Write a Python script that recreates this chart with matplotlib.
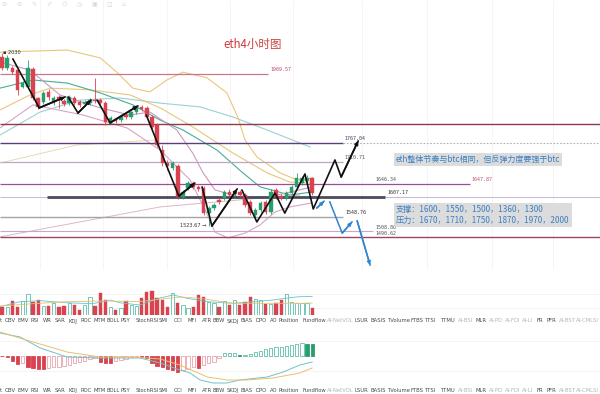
import matplotlib.pyplot as plt
from matplotlib.patches import Rectangle

plt.rcParams['font.family'] = ['Noto Sans CJK SC', 'DejaVu Sans']

W, H = 600, 394

# ---- ETH 4h candles ----
opens = [2020, 1987, 1987, 1981, 1931, 1931, 1984, 1899, 1887, 1917,
         1884, 1902, 1890, 1884, 1899, 1887, 1881, 1884, 1893, 1893,
         1884, 1829, 1837, 1834, 1849, 1843, 1858, 1873, 1870, 1843,
         1820, 1746, 1708, 1693, 1699, 1608, 1635, 1649, 1638, 1635,
         1561, 1576, 1599, 1605, 1623, 1617, 1623, 1614, 1594, 1555,
         1570, 1594, 1564, 1629, 1611, 1605, 1620, 1638, 1649, 1655,
         1664]
closes = [1987, 2017, 1976, 1923, 1943, 1987, 1899, 1873, 1914, 1902,
          1899, 1893, 1881, 1902, 1884, 1878, 1887, 1893, 1890, 1884,
          1829, 1840, 1832, 1846, 1843, 1858, 1873, 1867, 1843, 1814,
          1761, 1708, 1699, 1708, 1608, 1623, 1649, 1638, 1632, 1561,
          1576, 1585, 1594, 1623, 1614, 1620, 1614, 1585, 1561, 1570,
          1591, 1564, 1623, 1608, 1605, 1620, 1638, 1664, 1664, 1664,
          1620]
highs = [2030, 2025, 1993, 1987, 1950, 2011, 1990, 1902, 1920, 1925,
         1905, 1908, 1896, 1908, 1905, 1893, 1893, 1899, 1958, 1899,
         1890, 1846, 1843, 1852, 1855, 1861, 1878, 1878, 1875, 1849,
         1826, 1761, 1717, 1714, 1705, 1629, 1655, 1655, 1643, 1641,
         1582, 1591, 1605, 1629, 1632, 1626, 1629, 1620, 1599, 1576,
         1596, 1599, 1632, 1635, 1617, 1626, 1643, 1679, 1670, 1673,
         1667]
lows = [1981, 1981, 1970, 1908, 1928, 1925, 1893, 1866, 1881, 1893,
        1878, 1870, 1875, 1878, 1878, 1872, 1875, 1878, 1884, 1878,
        1820, 1823, 1826, 1829, 1837, 1837, 1852, 1861, 1837, 1808,
        1755, 1700, 1688, 1688, 1602, 1602, 1629, 1632, 1626, 1555,
        1523.67, 1570, 1588, 1599, 1608, 1611, 1608, 1579, 1555, 1541,
        1564, 1558, 1558, 1602, 1599, 1599, 1614, 1632, 1643, 1649,
        1614]
volumes = [780, 750, 1350, 780, 1350, 2050, 1280, 1450, 850, 850,
           1150, 780, 850, 1150, 950, 450, 950, 1780, 850, 2180,
           1450, 780, 450, 650, 1380, 950, 850, 1650, 2280, 2350,
           1650, 1450, 780, 2180, 1150, 950, 650, 780, 1950, 1780,
           1280, 1150, 780, 1350, 950, 1450, 950, 1280, 1780, 1550,
           1450, 1050, 1050, 1150, 1450, 2020, 1250, 1150, 1200, 1200,
           700]
macd_hist = [-0.3, -1.3, -4.7, -8.3, -7.3, -10.7, -12.3, -13.3, -13.3, -12.3,
             -11.3, -10.7, -10, -9, -7.3, -5.7, -4.7, -3.3, -2.3, -5.7,
             -6.7, -6.7, -4.7, -4, -3.3, -1.3, -0.7, -0.7, -2.3, -6.7,
             -10, -11.3, -12.7, -14, -15.7, -14, -12.7, -10.7, -12.3, -9,
             -7.3, -5.7, -2.3, 2.7, 3.3, 3.3, 1.3, 1.3, 2, 4,
             4.7, 6.7, 7.7, 8.7, 9.3, 10, 11, 11.7, 12.7, 12.3,
             12]

# indicator lines (knots at candle index)
boll_up_x = [-0.4, 12.6, 19, 22.2, 25.3, 28.6, 31.9, 35, 39.7, 43.5, 45.6, 47, 49.3, 53.8, 57.1, 60]
boll_up = [2034, 2040, 2017, 1975, 1928, 1917, 1952, 1975, 1958, 1914, 1843, 1776, 1726, 1679, 1658, 1664]
ma_yel_x = [-0.4, 5.4, 9.3, 17, 24.8, 30.6, 36.9, 44.7, 51.3, 55.7, 60]
ma_yel = [1864, 1908, 1928, 1923, 1908, 1870, 1814, 1737, 1679, 1652, 1649]
ma_teal_x = [-0.4, 6, 12.6, 19, 25.3, 30.6, 35, 41.6, 46.6, 49.9, 55.7, 60]
ma_teal = [1928, 1952, 1943, 1914, 1879, 1834, 1805, 1746, 1679, 1638, 1614, 1623]
ma_blue_x = [-0.4, 7.4, 15.1, 22.8, 30.6, 38.3, 44.7, 51.3, 59.6]
ma_blue = [1790, 1858, 1893, 1899, 1884, 1873, 1843, 1805, 1755]
ma_pink_x = [-0.4, 5.4, 11.2, 19, 24.8, 28.6, 33.8, 36.9, 38.9, 41.2, 46, 51.5, 57.6, 60]
ma_pink = [2005, 1981, 1908, 1870, 1849, 1858, 1805, 1737, 1679, 1629, 1608, 1608, 1629, 1638]
boll_dn_x = [-0.4, 6, 15.7, 24.2, 30.6, 36.4, 39.3, 41.2, 43.7, 47, 49.9, 52.8, 55.7, 60]
boll_dn = [1811, 1879, 1849, 1811, 1746, 1658, 1570, 1505, 1488, 1502, 1526, 1564, 1579, 1591]
ma_long_x = [-0.4, 15.1, 30.6, 49.9, 57.6]
ma_long = [1491, 1535, 1579, 1605, 1614]
ma_long2_x = [-0.4, 14.5, 30]
ma_long2 = [1708, 1761, 1776]

vma1_x = [-0.4, 3.5, 7.4, 12.6, 17.6, 20.9, 22.8, 26.7, 30.6, 33.1, 35.8, 39.7, 44.7, 48.5, 52.4, 56.3, 57.6, 60]
vma1 = [780, 1280, 1380, 1170, 1080, 1450, 1170, 950, 1650, 1950, 1620, 1280, 1120, 1280, 1450, 1720, 1780, 1800]
vma2_x = [-0.4, 6.0, 12.6, 19, 26.7, 34.4, 38.3, 44.7, 51.3, 57.6, 60]
vma2 = [850, 1080, 1280, 1350, 1300, 1750, 1620, 1120, 1120, 1120, 1150]

dif_x = [-0.4, 3.5, 7.4, 12.6, 19, 26.7, 30.6, 34.4, 36.4, 38.3, 40.8, 43.5, 46, 51.3, 54.4, 57.6, 60]
dif = [23, 19, 8, -1, -2, -2, -7, -14, -17, -24, -27, -27, -24, -21, -16, -9, -6]
dea_x = [-0.4, 6, 12.6, 19, 25.3, 30.6, 34.4, 39.7, 43.5, 47.4, 52.4, 57.6, 60]
dea = [24, 14, 4, -1, -1, -3, -9, -21, -24, -24, -22, -17, -12]

# hand-drawn swing paths
black_paths = [
    ([2.1, 7.2, 12.2], [2014, 1870, 1902]),
    ([12.8, 14.7, 17.2], [1902, 1855, 1893]),
    ([18.4, 20.9, 26.3], [1893, 1826, 1876]),
    ([27.9, 34.2, 37.3], [1849, 1611, 1649]),
    ([38.7, 40.6, 45.5], [1638, 1523, 1632]),
    ([46.4, 49.3, 52.8, 54.7, 58.6, 60.2, 64.4, 65.6, 68.9],
     [1629, 1535, 1620, 1561, 1676, 1573, 1717, 1667, 1773]),
]
blue_paths = [
    ([60.9, 62.3], [1576, 1596]),
    ([63.4, 65.8, 67.7], [1594, 1502, 1535]),
    ([68.7, 71.2], [1538, 1408]),
]

levels = [1969.57, 1822.7, 1767.04, 1710.71, 1646.34, 1607.17, 1548.76, 1508.86, 1490.62]

indicator_names = ["OBV", "EMV", "RSI", "WR", "SAR", "KDJ", "ROC", "MTM", "BOLL", "PSY",
                   "StochRSI", "SMI", "CCI", "MFI", "ATR", "BBW", "SKDJ", "BIAS", "DPO", "AO",
                   "Position", "Fundflow", "AI-NetVOL", "LSUR", "BASIS", "TVolume", "FTBS",
                   "TTSI", "TTMU", "AI-BSI", "MLR", "AI-PD", "AI-FDI", "AI-LI", "FR", "PFR",
                   "AI-BST", "AI-CMLSI"]
name_px = [10, 23, 35, 47, 60, 73, 86, 100, 113, 125, 147, 163, 178, 192, 207, 219, 233,
           247, 261, 274, 289, 314, 340, 361, 378, 399, 417, 431, 448, 466, 481, 496, 513,
           528, 540, 551, 567, 587]

RED = "#d8434f"
GREEN = "#2a9d6e"
HOLLOW_G = "#5cbfa9"
HOLLOW_R = "#e9a3ad"

STEP = 5.17          # px per candle
X0, X1 = -2 / STEP, 598 / STEP

fig = plt.figure(figsize=(W / 100, H / 100), dpi=100)
fig.patch.set_facecolor("white")


def px_axes(top, bottom):
    ax = fig.add_axes([0, 1 - bottom / H, 1, (bottom - top) / H])
    ax.set_axis_off()
    ax.set_xlim(X0, X1)
    return ax


# ---------------- main price panel ----------------
ax = px_axes(0, 270)
ax.set_ylim(1393.7, 2187)

for gx in [40, 103, 167, 230, 293, 362, 427, 492, 553]:
    ax.axvline((gx - 2) / STEP, color="#f4f4f4", lw=0.6, zorder=0)

# toolbar glyphs (faint)
for k, g in enumerate(["⊘", "⊘", "✎", "✐", "⚇", "◷", "▣", "☑", "⌂"]):
    fig.text((4 + 15 * k) / W, 1 - 5 / H, g, fontsize=4.5, color="#d8d8d8",
             ha="center", va="center", family=["DejaVu Sans"])

# indicator curves
ax.plot(ma_long2_x, ma_long2, color="#e6dcb0", lw=0.7, zorder=1)
ax.plot(ma_long_x, ma_long, color="#dcb8c4", lw=0.7, zorder=1)
ax.plot(ma_blue_x, ma_blue, color="#9ccfd8", lw=0.8, zorder=1)
ax.plot(boll_up_x, boll_up, color="#e8c878", lw=0.8, zorder=1)
ax.plot(ma_yel_x, ma_yel, color="#e8c878", lw=0.8, zorder=1)
ax.plot(ma_teal_x, ma_teal, color="#47ad95", lw=0.8, zorder=1)
ax.plot(ma_pink_x, ma_pink, color="#c99ac0", lw=0.8, zorder=1)
ax.plot(boll_dn_x, boll_dn, color="#d4a6c8", lw=0.8, zorder=1)

# horizontal levels
n = len(opens)
ax.hlines(levels[0], X0, (268 - 2) / STEP, color="#c8778f", lw=0.9, zorder=2)
ax.hlines(levels[1], X0, X1, color="#8e3b4e", lw=1.0, zorder=2)
ax.hlines(levels[2], X0, (343 - 2) / STEP, color="#5a3f7a", lw=1.0, zorder=2)
ax.hlines(levels[2], (343 - 2) / STEP, X1, color="#b0b0b0", lw=0.8, ls=(0, (1.5, 1.5)), zorder=2)
ax.hlines(levels[3], X0, (343 - 2) / STEP, color="#bba6c6", lw=0.9, zorder=2)
ax.hlines(levels[4], X0, (470 - 2) / STEP, color="#9c4c98", lw=0.9, zorder=2)
ax.hlines(levels[5], X0, X1, color="#c9b6d6", lw=0.7, zorder=2)
ax.hlines(levels[5], (47 - 2) / STEP, (385 - 2) / STEP, color="#4b4c5c", lw=2.0, zorder=2)
ax.hlines(levels[6], X0, (343 - 2) / STEP, color="#a5a5a5", lw=1.0, zorder=2)
ax.hlines(levels[7], X0, (373 - 2) / STEP, color="#c3a8cf", lw=0.8, zorder=2)
ax.hlines(levels[8], X0, X1, color="#9b4468", lw=1.0, zorder=2)

lab_kw = dict(fontsize=3.6, family=["DejaVu Sans Mono"], va="bottom", ha="left",
              textcoords="offset points")
ax.annotate("1969.57", ((270 - 2) / STEP, levels[0]), xytext=(0, 1.2), color="#c0506a", **lab_kw)
ax.annotate("1767.04", ((344 - 2) / STEP, levels[2]), xytext=(0, 1.2), color="#4a3a60", **lab_kw)
ax.annotate("1710.71", ((344 - 2) / STEP, levels[3]), xytext=(0, 1.2), color="#555555", **lab_kw)
ax.annotate("1646.34", ((375 - 2) / STEP, levels[4]), xytext=(0, 1.2), color="#555555", **lab_kw)
ax.annotate("1647.87", ((471 - 2) / STEP, levels[4]), xytext=(0, 1.2), color="#c0506a", **lab_kw)
ax.annotate("1607.17", ((387 - 2) / STEP, levels[5]), xytext=(0, 1.6), color="#333333", **lab_kw)
ax.annotate("1548.76", ((345 - 2) / STEP, levels[6]), xytext=(0, 1.6), color="#333333", **lab_kw)
ax.annotate("1508.86", ((375 - 2) / STEP, levels[7]), xytext=(0, 0.6), color="#555555", **lab_kw)
ax.annotate("1490.62", ((375 - 2) / STEP, levels[8]), xytext=(0, 0.6), color="#555555", **lab_kw)

# candles
for i in range(n):
    o, c, h, l = opens[i], closes[i], highs[i], lows[i]
    col = GREEN if c >= o else RED
    ax.vlines(i, l, h, color=col, lw=0.6, zorder=3)
    ax.add_patch(Rectangle((i - 0.34, min(o, c)), 0.68, max(abs(c - o), 1.5),
                           facecolor=col, edgecolor=col, lw=0.3, zorder=3))

hi_i = highs.index(max(highs))
lo_i = lows.index(min(lows))
ax.annotate("▪ %d" % round(max(highs)), (hi_i, highs[hi_i]), xytext=(1, 1), textcoords="offset points",
            fontsize=3.6, color="#333333", va="center", ha="left", family=["DejaVu Sans"])
ax.annotate("%.2f →" % min(lows), (lo_i, lows[lo_i]), xytext=(-1.5, 0), textcoords="offset points",
            fontsize=3.6, color="#333333", va="center", ha="right", family=["DejaVu Sans"])

# swing paths with arrow heads
for xs, ys in black_paths:
    ax.plot(xs, ys, color="#111111", lw=1.2, solid_capstyle="round", zorder=5)
    ax.annotate("", xy=(xs[-1], ys[-1]), xytext=(xs[-2], ys[-2]),
                arrowprops=dict(arrowstyle="-|>", color="#111111", lw=1.2, mutation_scale=5,
                                shrinkA=0, shrinkB=0), zorder=5)
for xs, ys in blue_paths:
    ax.plot(xs, ys, color="#2f86d0", lw=1.1, zorder=5)
    ax.annotate("", xy=(xs[-1], ys[-1]), xytext=(xs[-2], ys[-2]),
                arrowprops=dict(arrowstyle="-|>", color="#2f86d0", lw=1.1, mutation_scale=5,
                                shrinkA=0, shrinkB=0), zorder=5)

# title and notes
fig.text(253 / W, 1 - 44 / H, "eth4小时图", color="#cc3b3b", fontsize=8.3,
         ha="center", va="center")
fig.text(396 / W, 1 - 159.5 / H, "eth整体节奏与btc相同，但反弹力度要强于btc", color="#3a7fc4",
         fontsize=5.8, ha="left", va="center",
         bbox=dict(facecolor="#dcdcdc", edgecolor="none", pad=1.4))
fig.text(396 / W, 1 - 215 / H, "支撑：1600，1550，1500，1360，1300\n压力：1670，1710，1750，1870，1970，2000",
         color="#3a7fc4", fontsize=5.9, ha="left", va="center", linespacing=1.3,
         bbox=dict(facecolor="#dcdcdc", edgecolor="none", pad=1.5))

# ---------------- volume panel ----------------
axv = px_axes(280, 314.5)
axv.set_ylim(0, 3450)
for gy in [700, 2100]:
    axv.axhline(gy, color="#f3f3f3", lw=0.6, zorder=0)
for i in range(n):
    if closes[i] >= opens[i]:
        axv.add_patch(Rectangle((i - 0.32, 0), 0.64, volumes[i], facecolor="white",
                                edgecolor=HOLLOW_G, lw=0.6, zorder=2))
    else:
        axv.add_patch(Rectangle((i - 0.32, 0), 0.64, volumes[i], facecolor=RED,
                                edgecolor=RED, lw=0.3, zorder=2))
axv.plot(vma1_x, vma1, color="#6cc3c8", lw=0.6, zorder=3)
axv.plot(vma2_x, vma2, color="#e8c070", lw=0.6, zorder=3)

# ---------------- MACD panel ----------------
axm = px_axes(326, 386)
axm.set_ylim(-30, 30)
for gy in [15, -15]:
    axm.axhline(gy, color="#f3f3f3", lw=0.6, zorder=0)
prev = 0
for i, v in enumerate(macd_hist):
    grow = abs(v) >= abs(prev)
    if v < 0:
        filled = grow
        col = RED if filled else HOLLOW_R
    else:
        filled = not grow
        col = GREEN if filled else HOLLOW_G
    axm.add_patch(Rectangle((i - 0.32, 0), 0.64, v, facecolor=col if filled else "white",
                            edgecolor=col, lw=0.6, zorder=2))
    prev = v
axm.plot(dif_x, dif, color="#6cc3c8", lw=0.7, zorder=3)
axm.plot(dea_x, dea, color="#e8c070", lw=0.7, zorder=3)

# indicator name rows
for row_y in [321, 390.5]:
    fig.text(1 / W, 1 - row_y / H, "t", fontsize=3.8, color="#555555", ha="center", va="center",
             family=["DejaVu Sans"])
    for name, x in zip(indicator_names, name_px):
        col = "#b5b5b5" if name.startswith("AI-") else "#4a4a4a"
        fig.text(x / W, 1 - row_y / H, name, fontsize=3.8, color=col, ha="center", va="center",
                 family=["Liberation Sans Narrow", "DejaVu Sans"])

fig.savefig("out.png", dpi=100, facecolor="white")
